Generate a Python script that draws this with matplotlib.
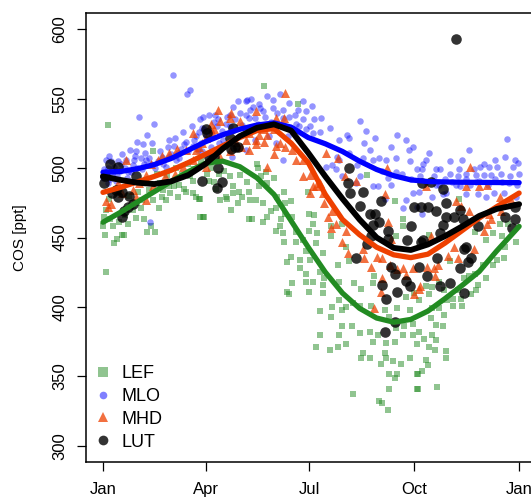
import matplotlib
matplotlib.use('Agg')
import matplotlib.pyplot as plt
from matplotlib.lines import Line2D

plt.rcParams['font.family'] = ['Liberation Sans', 'DejaVu Sans']

# axis ticks (day of year)
month_days = [0, 90, 181, 273, 365]
month_labels = ['Jan', 'Apr', 'Jul', 'Oct', 'Jan']
cos_ticks = [300, 350, 400, 450, 500, 550, 600]

lef_pts = [
    (4, 531), (3, 425), (0, 458), (1, 465), (2, 452), (3, 470), (6, 463), (10, 446),
    (14, 461), (14, 483), (17, 452), (18, 452), (22, 460), (23, 480), (29, 464),
    (30, 475), (31, 483), (33, 471), (34, 477), (38, 490), (39, 454), (42, 458),
    (44, 477), (44, 512), (46, 454), (47, 496), (49, 471), (52, 479), (53, 484),
    (55, 477), (58, 487), (59, 482), (66, 479), (67, 488), (71, 485), (73, 483),
    (76, 494), (79, 482), (79, 491), (82, 479), (85, 478), (85, 465), (88, 465),
    (91, 496), (93, 491), (97, 490), (102, 496), (103, 477), (89, 465), (84, 478),
    (5, 478), (9, 458), (12, 449), (19, 466), (26, 470), (36, 463), (40, 484), (50, 489),
    (56, 495), (62, 487), (64, 500), (69, 495), (75, 503), (80, 499), (86, 505), (95, 500),
    (99, 485), (106, 498), (112, 470), (118, 475),
    (141, 559), (136, 500), (143, 497), (150, 493), (144, 489), (137, 487), (128, 483),
    (122, 479), (114, 482), (134, 477), (140, 475), (153, 479), (159, 483), (160, 475),
    (165, 476), (152, 471), (147, 469), (160, 467), (166, 465), (156, 463), (155, 458),
    (144, 465), (140, 461), (128, 463), (152, 455), (158, 453), (169, 454), (169, 447),
    (175, 448), (159, 447), (109, 478), (120, 495), (111, 494), (108, 479), (114, 487),
    (119, 483), (126, 490), (129, 477), (135, 503), (139, 494), (171, 546), (131, 463),
    (165, 436), (161, 432), (173, 434), (173, 428), (166, 417), (161, 411), (163, 409),
    (178, 440), (178, 424), (178, 418), (180, 483), (181, 467), (185, 466), (184, 460),
    (181, 455), (188, 453), (200, 458), (200, 451), (210, 460), (187, 446), (213, 443),
    (232, 495), (256, 476), (263, 463), (263, 458), (257, 451),
    (193, 439), (182, 434), (206, 430), (216, 433), (190, 425), (184, 418), (194, 421),
    (193, 416), (207, 418), (220, 417), (226, 413), (238, 422), (237, 417), (181, 411),
    (193, 410), (207, 405), (201, 400), (213, 400), (219, 403), (225, 401), (190, 397),
    (200, 393), (210, 398), (235, 401), (247, 398), (251, 393), (258, 399), (266, 407),
    (273, 410), (269, 398), (210, 386), (218, 386), (225, 381), (234, 382), (241, 380),
    (257, 385), (264, 386), (272, 388), (190, 380), (207, 380), (213, 373), (187, 371),
    (199, 369), (206, 371), (237, 375), (248, 374), (256, 375), (263, 380), (272, 380),
    (228, 367), (226, 363), (234, 363), (247, 367), (248, 363), (254, 361), (269, 363),
    (275, 373), (244, 359), (261, 359), (251, 352), (258, 352), (256, 349), (275, 352),
    (251, 341), (275, 341), (219, 337), (242, 332), (245, 331), (250, 326),
    (304, 433), (326, 424), (336, 421), (329, 416), (321, 422), (317, 421), (346, 434),
    (352, 435), (342, 430), (333, 430), (327, 412), (323, 409), (311, 412), (307, 406),
    (299, 412), (295, 418), (283, 415), (289, 414), (286, 409), (277, 405), (302, 405),
    (314, 406), (315, 401), (307, 401), (295, 399), (289, 399), (288, 392), (299, 394),
    (292, 387), (298, 386), (277, 382), (282, 377), (289, 380), (292, 376), (286, 371),
    (291, 369), (301, 368), (301, 363), (283, 362), (285, 358), (280, 354), (276, 352),
    (276, 341), (293, 342), (353, 443), (348, 460), (355, 460), (342, 453), (350, 451),
    (362, 447), (326, 454), (286, 452), (336, 448), (312, 478),
]

mlo_pts = [
    (61, 567), (76, 556), (74, 553), (32, 537), (45, 532), (39, 524), (30, 519), (24, 513),
    (17, 510), (35, 517), (43, 518), (29, 512), (33, 507), (38, 506), (58, 520), (63, 522),
    (70, 526), (78, 530), (73, 519), (7, 505), (13, 505), (3, 506), (20, 506), (26, 502),
    (41, 461), (1, 499), (10, 501), (19, 500), (27, 506), (55, 501), (64, 506), (0, 493),
    (4, 489), (8, 496), (12, 494), (15, 498), (22, 497), (30, 500), (36, 503), (42, 503),
    (48, 505), (52, 508), (58, 508), (66, 511), (68, 514), (83, 513), (87, 512), (80, 520),
    (4, 500), (6, 492),
    (2, 497), (5, 509), (9, 498), (11, 491), (16, 503), (21, 493), (25, 497), (28, 509),
    (34, 499), (37, 511), (40, 507), (46, 500), (50, 512), (53, 503), (57, 515), (60, 510),
    (62, 516), (67, 507), (71, 517), (75, 512), (79, 516), (82, 523), (86, 518), (89, 528),
    (85, 535), (88, 537), (98, 538), (114, 544), (118, 548), (126, 549), (132, 544),
    (138, 543), (144, 552), (120, 540), (129, 542), (109, 537), (111, 530), (100, 530),
    (125, 548), (130, 550), (149, 549), (155, 553), (163, 547), (171, 542), (175, 548),
    (178, 541), (137, 546), (140, 541), (149, 543), (158, 542), (168, 538), (175, 535),
    (93, 538), (101, 535), (87, 529), (95, 526), (84, 526), (111, 538), (125, 538),
    (133, 536), (158, 536), (163, 537), (169, 532), (158, 506), (113, 508), (125, 513),
    (133, 520), (146, 523), (152, 518), (162, 523), (90, 523), (105, 520), (95, 515),
    (102, 518), (92, 510),
    (97, 533), (104, 527), (108, 532), (116, 535), (122, 531), (128, 536), (136, 532),
    (142, 537), (147, 533), (153, 540), (160, 530), (166, 528), (172, 530), (178, 528),
    (183, 545), (191, 536), (185, 535), (199, 529), (190, 526), (182, 530), (184, 525),
    (225, 534), (231, 527), (216, 522), (207, 520), (229, 518), (239, 522), (253, 515),
    (258, 524), (266, 520), (234, 513), (237, 506), (242, 507), (248, 506), (257, 507),
    (228, 507), (216, 511), (223, 502), (201, 502), (196, 501), (204, 499), (237, 487),
    (241, 487), (253, 488), (247, 478), (263, 471), (225, 494), (210, 494), (222, 489),
    (207, 506), (214, 524), (205, 508),
    (268, 513), (272, 515), (275, 499), (296, 499), (325, 499), (339, 501), (360, 501),
    (313, 487), (301, 482), (272, 482), (275, 472), (266, 477),
    (354, 521), (321, 513), (286, 511), (283, 506), (304, 505), (315, 506), (334, 503),
    (344, 506), (353, 508), (361, 506), (346, 501), (331, 501), (280, 499), (292, 499),
    (312, 499), (304, 496), (327, 495), (340, 495), (349, 496), (365, 496), (277, 483),
    (289, 479), (298, 481), (318, 481), (329, 481), (336, 479), (343, 482), (352, 482),
    (280, 467), (310, 488), (292, 488), (356, 489), (362, 479),
    (245, 498), (250, 493), (262, 496), (270, 492), (278, 494), (283, 490), (290, 494),
    (295, 488), (300, 492), (306, 490), (311, 494), (318, 492), (322, 488), (330, 491),
    (334, 495), (338, 488), (344, 492), (350, 490), (357, 494), (363, 488), (364, 504),
    (269, 505), (281, 503), (257, 497), (318, 496), (327, 490),
]

mhd_pts = [
    (20, 506), (52, 509), (58, 511), (65, 514), (73, 513), (48, 506), (42, 503), (38, 495),
    (3, 476), (7, 474), (4, 472), (26, 484), (29, 479), (38, 477), (17, 482), (32, 489),
    (44, 487), (54, 494), (63, 496), (70, 501), (79, 506), (82, 513), (13, 489), (79, 525),
    (97, 528),
    (101, 542), (160, 554), (112, 540), (111, 536), (103, 534), (95, 532), (96, 526),
    (120, 534), (134, 541), (152, 536), (159, 536), (140, 528), (128, 525), (137, 524),
    (144, 524), (150, 528), (141, 519), (134, 520), (125, 520), (121, 515), (134, 517),
    (155, 518), (160, 515), (152, 516), (166, 513), (169, 506), (175, 506), (150, 510),
    (144, 501), (175, 494), (117, 519), (128, 513), (87, 518), (90, 522), (84, 515),
    (111, 512), (103, 508), (90, 501),
    (196, 511), (206, 507), (212, 494), (222, 491), (249, 500), (247, 481), (182, 495),
    (184, 487), (187, 487), (190, 489), (182, 482), (193, 482), (194, 475), (197, 465),
    (201, 469), (204, 460), (213, 455), (250, 461), (253, 449), (210, 447), (200, 457),
    (215, 439), (228, 442), (229, 435), (235, 429), (245, 435), (245, 421), (244, 411),
    (238, 399), (263, 428), (273, 409), (272, 428), (240, 436), (252, 430), (258, 427),
    (266, 423), (284, 429), (290, 428), (294, 430), (303, 437), (325, 442), (278, 415),
    (288, 451), (283, 487), (318, 487), (330, 487), (337, 488), (322, 501), (310, 476),
    (314, 473), (321, 469), (340, 463), (348, 479), (349, 469), (337, 460), (334, 455),
    (358, 477), (291, 422), (277, 413), (311, 435), (308, 443), (339, 467),
]

lut_pts = [
    (6, 503), (13, 501), (1, 489), (8, 482), (13, 479), (17, 483), (23, 480), (22, 472),
    (26, 474), (17, 465), (29, 494), (2, 494), (11, 484), (18, 469),
    (91, 525), (100, 486), (104, 490), (101, 500), (87, 491), (111, 522), (116, 515),
    (97, 508), (114, 529), (90, 528), (112, 514), (118, 515), (93, 508),
    (310, 593),
    (216, 500), (215, 489), (217, 482), (228, 483), (225, 473), (234, 467), (239, 467),
    (242, 461), (244, 476), (237, 459), (250, 455), (235, 451), (250, 449), (273, 472),
    (270, 458), (267, 448), (281, 448), (288, 490), (285, 472), (298, 485), (301, 465),
    (313, 470), (316, 463), (329, 458), (353, 465), (361, 472), (361, 463),
    (280, 489), (292, 469), (301, 475), (308, 465), (298, 459), (359, 457), (279, 472),
    (279, 447), (296, 453), (318, 443),
    (222, 435), (253, 429), (256, 424), (245, 416), (258, 411), (248, 406), (266, 419),
    (269, 415), (256, 389), (247, 382), (317, 442), (323, 435), (320, 432), (293, 435),
    (277, 429), (313, 428), (284, 422), (296, 415), (304, 417), (317, 410), (232, 445),
]

# smoothed seasonal cycles, read at these days
fit_day = [0, 15, 30, 45, 60, 75, 90, 105, 120, 135, 150, 165, 180,
           195, 210, 225, 240, 255, 270, 285, 300, 315, 330, 345, 365]
lef_fit = [461, 468, 475.5, 483, 490.5, 497.5, 503.5, 505, 501, 493, 481, 462, 443,
           425, 410, 399, 392, 389, 391, 397, 406, 415.5, 425.5, 440, 458]
mlo_fit = [497, 497.5, 499.5, 502.5, 507, 513, 519, 524, 528, 531, 532.5, 529.5, 522,
           517.5, 512, 505, 499, 494.5, 491.5, 490.3, 490, 489.8, 489.7, 489.6, 489.5]
mhd_fit = [482.5, 486, 490, 494, 498.5, 504, 510, 516, 522, 527, 528.5, 518, 504,
           481, 463, 452, 443, 437.5, 435.5, 438, 446, 455, 464, 472, 482]
lut_fit = [494, 491.5, 489.5, 488.5, 490.5, 495, 503, 514, 523, 529, 531.5, 527, 511,
           494, 478, 463, 450, 442.5, 441, 445, 451, 458, 465.5, 470.5, 474]


def split(pts):
    return [p[0] for p in pts], [p[1] for p in pts]


fig = plt.figure(figsize=(5.31, 4.99), dpi=100)
# plot box runs a little past the right edge of the image, as in the original
ax = fig.add_axes([86 / 531, 37 / 499, 450 / 531, 449 / 499])

green = '#228B22'
orange = '#EE4000'

x, y = split(lef_pts)
ax.scatter(x, y, marker='s', s=19, color=green, alpha=0.5, linewidths=0)
x, y = split(mlo_pts)
ax.scatter(x, y, marker='o', s=22, color='blue', alpha=0.42, linewidths=0)
x, y = split(mhd_pts)
ax.scatter(x, y, marker='^', s=42, color=orange, alpha=0.75, linewidths=0)
x, y = split(lut_pts)
ax.scatter(x, y, marker='o', s=58, color='black', alpha=0.8, linewidths=0)

ax.plot(fit_day, lef_fit, color=green, lw=3.8, solid_capstyle='round')
ax.plot(fit_day, mhd_fit, color=orange, lw=3.8, solid_capstyle='round')
ax.plot(fit_day, mlo_fit, color='blue', lw=3.8, solid_capstyle='round')
ax.plot(fit_day, lut_fit, color='black', lw=4.2, solid_capstyle='round')

ax.set_xlim(-14.9, 379.8)
ax.set_ylim(288.3, 611.7)
ax.set_xticks(month_days)
ax.set_xticklabels(month_labels)
ax.set_yticks(cos_ticks)
ax.tick_params(axis='both', direction='out', length=6.5, width=0.9, labelsize=12)
ax.tick_params(axis='x', pad=8)
ax.tick_params(axis='y', pad=7, labelrotation=90)
for lbl in ax.get_yticklabels():
    lbl.set_va('center')
for sp in ax.spines.values():
    sp.set_linewidth(1.1)

ax.set_ylabel('COS [ppt]', fontsize=11)
ax.yaxis.set_label_coords(-0.147, 0.5)
ax.yaxis.label.set_va('center')

handles = [
    Line2D([], [], ls='none', marker='s', ms=6.5, color=green, alpha=0.5, mew=0),
    Line2D([], [], ls='none', marker='o', ms=5.5, color='blue', alpha=0.5, mew=0),
    Line2D([], [], ls='none', marker='^', ms=7.5, color=orange, alpha=0.75, mew=0),
    Line2D([], [], ls='none', marker='o', ms=7, color='black', alpha=0.8, mew=0),
]
ax.legend(handles, ['LEF', 'MLO', 'MHD', 'LUT'], loc='lower left',
          bbox_to_anchor=(0.019, 0.025), frameon=False, fontsize=13,
          handlelength=0.95, handletextpad=0.55, labelspacing=0.33,
          borderpad=0, borderaxespad=0)

fig.savefig('out.png', dpi=100)
